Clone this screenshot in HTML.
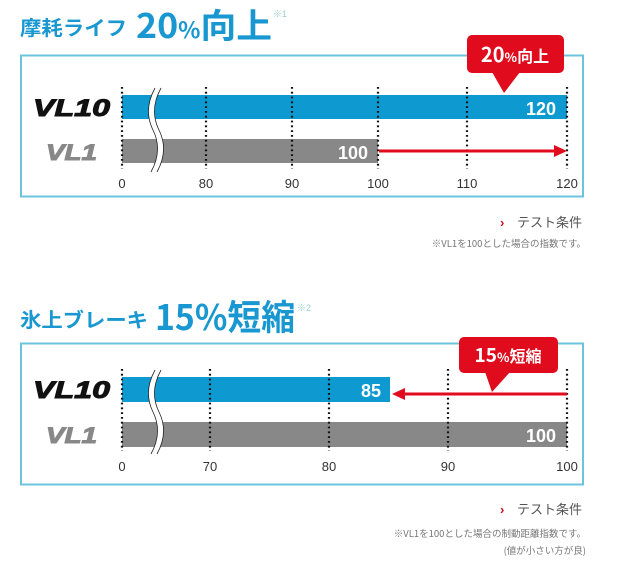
<!DOCTYPE html>
<html><head><meta charset="utf-8"><style>
html,body{margin:0;padding:0;background:#fff;width:618px;height:571px;overflow:hidden}
svg{display:block}
.t{font-family:"Liberation Sans","Noto Sans CJK JP",sans-serif}
</style></head><body>
<svg width="618" height="571" viewBox="0 0 618 571" class="t">
<defs>
<g id="dots"><line x1="0" y1="0" x2="0" y2="82" stroke="#111" stroke-width="2.2" stroke-dasharray="1.8 3"/></g>
</defs>
<!-- Panel 1 -->
<text x="20" y="35" fill="#1897d0" font-weight="bold" font-size="20" font-family="Noto Sans CJK JP,sans-serif" textLength="107" lengthAdjust="spacingAndGlyphs">摩耗ライフ</text>
<text x="136" y="38" fill="#1897d0" font-weight="bold" font-size="34" font-family="Noto Sans CJK JP,sans-serif" textLength="136" lengthAdjust="spacingAndGlyphs">20<tspan font-size="22">%</tspan>向上</text>
<text x="273" y="17" fill="#9cc" font-size="9">※1</text>
<rect x="21" y="55.5" width="562" height="141" fill="none" stroke="#6cc3dc" stroke-width="2"/>
<rect x="122" y="95" width="445" height="24" fill="#0e9ad1"/>
<rect x="122" y="139" width="256" height="24" fill="#888"/>
<g transform="translate(122,87)"><use href="#dots"/></g>
<g transform="translate(206,87)"><use href="#dots"/></g>
<g transform="translate(292,87)"><use href="#dots"/></g>
<g transform="translate(378,87)"><use href="#dots"/></g>
<g transform="translate(467,87)"><use href="#dots"/></g>
<g transform="translate(567,87)"><use href="#dots"/></g>
<path d="M158 88 Q146 110 156 130 Q166 150 154 172" fill="none" stroke="#fff" stroke-width="6"/>
<path d="M155 88 Q143 110 153 130 Q163 150 151 172 M161 88 Q149 110 159 130 Q169 150 157 172" fill="none" stroke="#222" stroke-width="0.8"/>
<text x="556" y="115" text-anchor="end" fill="#fff" font-weight="bold" font-size="18">120</text>
<text x="368" y="159" text-anchor="end" fill="#fff" font-weight="bold" font-size="18">100</text>
<line x1="379" y1="151" x2="556" y2="151" stroke="#e00b1c" stroke-width="3"/>
<path d="M554 145 L567 151 L554 157Z" fill="#e00b1c"/>
<text x="33" y="116" fill="#111" font-weight="bold" font-style="italic" font-size="24" textLength="77" lengthAdjust="spacingAndGlyphs" stroke="#111" stroke-width="1">VL10</text>
<text x="46" y="160" fill="#888" font-weight="bold" font-style="italic" font-size="22" textLength="51" lengthAdjust="spacingAndGlyphs" stroke="#888" stroke-width="1">VL1</text>
<g fill="#333" font-size="13" text-anchor="middle"><text x="122" y="188">0</text><text x="206" y="188">80</text><text x="292" y="188">90</text><text x="378" y="188">100</text><text x="467" y="188">110</text><text x="567" y="188">120</text></g>
<rect x="467" y="35" width="97" height="38" rx="5" fill="#e00b1c"/>
<path d="M492 72 L504 93 L520 72Z" fill="#e00b1c"/>
<text x="515" y="62" text-anchor="middle" fill="#fff" font-weight="bold" font-size="20" font-family="Noto Sans CJK JP,sans-serif">20<tspan font-size="13">%</tspan><tspan font-size="16">向上</tspan></text>
<text x="500" y="227" fill="#d0101c" font-weight="bold" font-size="13">›</text>
<text x="517" y="227" fill="#555" font-size="13" font-family="Noto Sans CJK JP,sans-serif">テスト条件</text>
<text x="586" y="247" text-anchor="end" fill="#777" font-size="9.5" font-family="Noto Sans CJK JP,sans-serif">※VL1を100とした場合の指数です。</text>

<!-- Panel 2 -->
<text x="20" y="327" fill="#1897d0" font-weight="bold" font-size="20" font-family="Noto Sans CJK JP,sans-serif" textLength="128" lengthAdjust="spacingAndGlyphs">氷上ブレーキ</text>
<text x="155" y="330" fill="#1897d0" font-weight="bold" font-size="35" font-family="Noto Sans CJK JP,sans-serif" textLength="140" lengthAdjust="spacingAndGlyphs">15%短縮</text>
<text x="297" y="311" fill="#9cc" font-size="9">※2</text>
<rect x="21" y="343.5" width="562" height="141" fill="none" stroke="#6cc3dc" stroke-width="2"/>
<rect x="122" y="377" width="268" height="25" fill="#0e9ad1"/>
<rect x="122" y="422" width="445" height="25" fill="#888"/>
<g transform="translate(122,369)"><use href="#dots"/></g>
<g transform="translate(210,369)"><use href="#dots"/></g>
<g transform="translate(329,369)"><use href="#dots"/></g>
<g transform="translate(448,369)"><use href="#dots"/></g>
<g transform="translate(567,369)"><use href="#dots"/></g>
<path d="M158 370 Q146 392 156 412 Q166 432 154 454" fill="none" stroke="#fff" stroke-width="6"/>
<path d="M155 370 Q143 392 153 412 Q163 432 151 454 M161 370 Q149 392 159 412 Q169 432 157 454" fill="none" stroke="#222" stroke-width="0.8"/>
<text x="381" y="397" text-anchor="end" fill="#fff" font-weight="bold" font-size="18">85</text>
<text x="556" y="442" text-anchor="end" fill="#fff" font-weight="bold" font-size="18">100</text>
<line x1="403" y1="394" x2="567" y2="394" stroke="#e00b1c" stroke-width="3"/>
<path d="M405 388 L392 394 L405 400Z" fill="#e00b1c"/>
<text x="33" y="398" fill="#111" font-weight="bold" font-style="italic" font-size="24" textLength="77" lengthAdjust="spacingAndGlyphs" stroke="#111" stroke-width="1">VL10</text>
<text x="46" y="443" fill="#888" font-weight="bold" font-style="italic" font-size="22" textLength="51" lengthAdjust="spacingAndGlyphs" stroke="#888" stroke-width="1">VL1</text>
<g fill="#333" font-size="13" text-anchor="middle"><text x="122" y="471">0</text><text x="210" y="471">70</text><text x="329" y="471">80</text><text x="448" y="471">90</text><text x="567" y="471">100</text></g>
<rect x="459" y="337" width="99" height="36" rx="5" fill="#e00b1c"/>
<path d="M485 372 L492 392 L510 372Z" fill="#e00b1c"/>
<text x="508" y="362" text-anchor="middle" fill="#fff" font-weight="bold" font-size="19" font-family="Noto Sans CJK JP,sans-serif">15<tspan font-size="13">%</tspan><tspan font-size="16">短縮</tspan></text>
<text x="500" y="514" fill="#d0101c" font-weight="bold" font-size="13">›</text>
<text x="517" y="514" fill="#555" font-size="13" font-family="Noto Sans CJK JP,sans-serif">テスト条件</text>
<text x="586" y="537" text-anchor="end" fill="#777" font-size="9.5" font-family="Noto Sans CJK JP,sans-serif">※VL1を100とした場合の制動距離指数です。</text>
<text x="586" y="554" text-anchor="end" fill="#777" font-size="9.5" font-family="Noto Sans CJK JP,sans-serif">(値が小さい方が良)</text>
</svg>
</body></html>
